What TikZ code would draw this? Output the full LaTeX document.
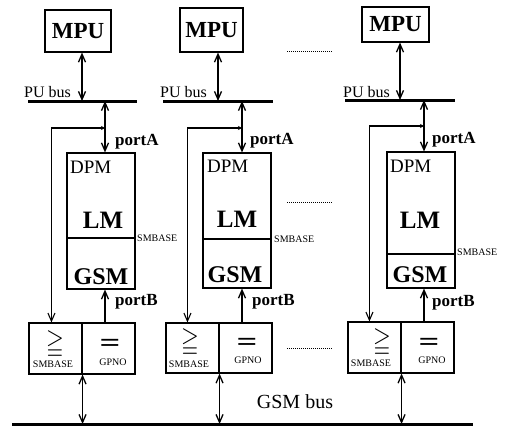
\documentclass[tikz,border=0pt]{standalone}
\usepackage{fontspec}
\usepackage{amssymb}
\usepackage{graphicx}
\setmainfont{Liberation Serif}
\usetikzlibrary{arrows.meta,calc}
\tikzset{
  box/.style={draw, line width=1.1pt, inner sep=0pt},
  link/.style={line width=1.3pt},
  dbl/.style={link, {Straight Barb[length=8pt,width=7pt]}-{Straight Barb[length=8pt,width=7pt]}},
  uparrow/.style={link, -{Straight Barb[length=8pt,width=7pt]}},
  feed/.style={line width=1.1pt, {Stealth[length=4pt,width=4pt]}-{Straight Barb[length=8pt,width=7pt]}},
  bus/.style={line width=3pt},
  dots/.style={line width=0.8pt, dash pattern=on 1pt off 1pt},
  unitname/.style={font=\fontsize{23}{23}\selectfont\bfseries},
  lmname/.style={font=\fontsize{25}{25}\selectfont\bfseries, inner sep=0pt, anchor=base},
  gsmname/.style={font=\fontsize{24}{24}\selectfont\bfseries, inner sep=0pt, anchor=base},
  dpmname/.style={font=\fontsize{19}{19}\selectfont, inner sep=0pt, anchor=base west},
  busname/.style={font=\fontsize{16}{16}\selectfont, inner sep=0pt, anchor=base east},
  portname/.style={font=\fontsize{17}{17}\selectfont\bfseries, inner sep=0pt, anchor=base west},
  tiny/.style={font=\fontsize{10}{10}\selectfont, inner sep=0pt},
  geqsign/.style={font=\fontsize{24}{24}\selectfont, inner sep=0pt},
  eqsign/.style={font=\fontsize{26}{26}\selectfont\bfseries, inner sep=0pt},
}
\newcommand{\geqmark}{\scalebox{0.95}[1.15]{$\geqq$}}
\newcommand{\eqmark}{\scalebox{1.4}[1]{=}}
\begin{document}
\begin{tikzpicture}[x=1pt,y=-1pt]
\useasboundingbox (0,0) rectangle (505,426);

% ---------- GSM bus ----------
\coordinate (gbl) at (12,424);
\coordinate (gbr) at (473,424);
\draw[bus] (gbl) -- (gbr);
\node[font=\fontsize{20}{20}\selectfont, anchor=base, inner sep=0pt] (gbt) at (295,408) {GSM bus};

% ---------- unit 1 ----------
\node[box, unitname, minimum width=66pt, minimum height=42pt] (mpu1) at (78,31) {MPU};
\coordinate (pbl1) at (28,101);
\coordinate (pbr1) at (137,101);
\draw[bus] (pbl1) -- (pbr1);
\node[busname] (pbt1) at (71,97) {PU bus};
\coordinate (pa1) at (82,101);
\draw[dbl] (mpu1.south -| pa1) -- (pa1);

\node[box, minimum width=68pt, minimum height=85pt] (lm1) at (101,195.5) {};
\node[box, minimum width=68pt, minimum height=51pt] (gsm1) at (101,263.5) {};
\node[dpmname] (dpm1) at (70,173) {DPM};
\node[lmname] (lmt1) at (103,228) {LM};
\node[gsmname] (gsmt1) at (101,284) {GSM};
\node[tiny, anchor=west] (smb1) at (137,238) {SMBASE};

\node[box, minimum width=53pt, minimum height=51pt] (ge1) at (55.5,348.5) {};
\node[box, minimum width=53pt, minimum height=51pt] (eq1) at (108.5,348.5) {};
\node[geqsign] (geq1) at (55,345) {\geqmark};
\node[tiny, anchor=base] (cmpa1) at (53,367) {SMBASE};
\node[eqsign] (eqs1) at (110,345) {\eqmark};
\node[tiny, anchor=base] (cmpb1) at (113,365) {GPNO};

\coordinate (j1) at (105,128);
\draw[dbl] (j1 |- pbl1) -- (j1 |- lm1.north);
\draw[feed] (j1) -| ($(ge1.north west)+(23,0)$);
\draw[uparrow] (j1 |- ge1.north) -- (j1 |- gsm1.south);
\node[portname] (pA1) at (115,145) {portA};
\node[portname] (pB1) at (115,305) {portB};
\draw[dbl] (ge1.south east) -- (ge1.south east |- gbl);

% ---------- unit 2 ----------
\node[box, unitname, minimum width=63pt, minimum height=44pt] (mpu2) at (211.5,30) {MPU};
\coordinate (pbl2) at (163,101);
\coordinate (pbr2) at (273,101);
\draw[bus] (pbl2) -- (pbr2);
\node[busname] (pbt2) at (207,97) {PU bus};
\coordinate (pa2) at (218,101);
\draw[dbl] (mpu2.south -| pa2) -- (pa2);

\node[box, minimum width=68pt, minimum height=86pt] (lm2) at (237,196) {};
\node[box, minimum width=68pt, minimum height=49pt] (gsm2) at (237,263.5) {};
\node[dpmname] (dpm2) at (207,172) {DPM};
\node[lmname] (lmt2) at (237,227) {LM};
\node[gsmname] (gsmt2) at (235,282) {GSM};
\node[tiny, anchor=west] (smb2) at (274,239) {SMBASE};

\node[box, minimum width=53pt, minimum height=50pt] (ge2) at (192.5,348) {};
\node[box, minimum width=53pt, minimum height=50pt] (eq2) at (245.5,348) {};
\node[geqsign] (geq2) at (190,343) {\geqmark};
\node[tiny, anchor=base] (cmpa2) at (189,367) {SMBASE};
\node[eqsign] (eqs2) at (247,344) {\eqmark};
\node[tiny, anchor=base] (cmpb2) at (248,363) {GPNO};

\coordinate (j2) at (242,128);
\draw[dbl] (j2 |- pbl2) -- (j2 |- lm2.north);
\draw[feed] (j2) -| ($(ge2.north west)+(22,0)$);
\draw[uparrow] (j2 |- ge2.north) -- (j2 |- gsm2.south);
\node[portname] (pA2) at (250,144) {portA};
\node[portname] (pB2) at (252,305) {portB};
\draw[dbl] (ge2.south east) -- (ge2.south east |- gbl);

% ---------- unit 3 ----------
\node[box, unitname, minimum width=67pt, minimum height=35pt] (mpu3) at (395.5,24.5) {MPU};
\coordinate (pbl3) at (345,100);
\coordinate (pbr3) at (455,100);
\draw[bus] (pbl3) -- (pbr3);
\node[busname] (pbt3) at (390,97) {PU bus};
\coordinate (pa3) at (400,100);
\draw[dbl] (mpu3.south -| pa3) -- (pa3);

\node[box, minimum width=68pt, minimum height=102pt] (lm3) at (421,203) {};
\node[box, minimum width=68pt, minimum height=34pt] (gsm3) at (421,271) {};
\node[dpmname] (dpm3) at (390,172) {DPM};
\node[lmname] (lmt3) at (420,228) {LM};
\node[gsmname] (gsmt3) at (420,282) {GSM};
\node[tiny, anchor=west] (smb3) at (457,252) {SMBASE};

\node[box, minimum width=53pt, minimum height=51pt] (ge3) at (374.5,347.5) {};
\node[box, minimum width=53pt, minimum height=51pt] (eq3) at (427.5,347.5) {};
\node[geqsign] (geq3) at (382,343) {\geqmark};
\node[tiny, anchor=base] (cmpa3) at (371,366) {SMBASE};
\node[eqsign] (eqs3) at (429,344) {\eqmark};
\node[tiny, anchor=base] (cmpb3) at (432,363) {GPNO};

\coordinate (j3) at (424,126);
\draw[dbl] (j3 |- pbl3) -- (j3 |- lm3.north);
\draw[feed] (j3) -| ($(ge3.north west)+(22,0)$);
\draw[uparrow] (j3 |- ge3.north) -- (j3 |- gsm3.south);
\node[portname] (pA3) at (432,143) {portA};
\node[portname] (pB3) at (432,306) {portB};
\draw[dbl] (ge3.south east) -- (ge3.south east |- gbl);

% ---------- continuation dots ----------
\coordinate (d1a) at (287,51);  \coordinate (d1b) at (332,51);
\coordinate (d2a) at (287,202); \coordinate (d2b) at (332,202);
\coordinate (d3a) at (287,348); \coordinate (d3b) at (332,348);
\draw[dots] (d1a) -- (d1b);
\draw[dots] (d2a) -- (d2b);
\draw[dots] (d3a) -- (d3b);
\end{tikzpicture}
\end{document}
